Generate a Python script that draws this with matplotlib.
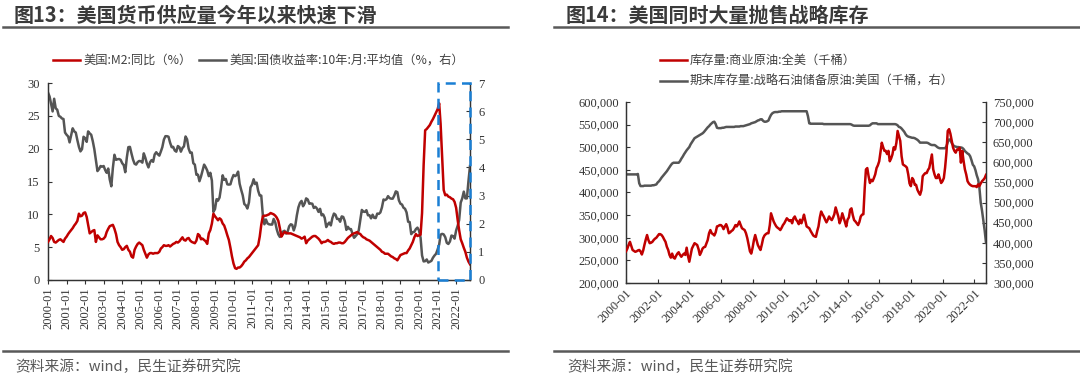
import numpy as np
import pandas as pd
import matplotlib
matplotlib.use("Agg")
import matplotlib.pyplot as plt
import matplotlib.dates as mdates
from matplotlib.patches import Rectangle
from matplotlib.lines import Line2D
from matplotlib.ticker import FuncFormatter, MultipleLocator

# numbers in Times-like serif, Chinese text passes its own family
plt.rcParams['font.family'] = ['Liberation Serif', 'Noto Sans CJK SC']
CJK = ['Noto Sans CJK SC', 'DejaVu Sans']

# monthly axis, 2000-01 .. 2022-10
months = pd.date_range("2000-01-01", "2022-10-01", freq="MS")

# ---- chart 13: US M2 yoy (%), one row per year
m2_yoy = [
    [5.8, 6.2, 6.7, 6.4, 5.8, 5.7, 5.9, 6.1, 6.2, 6.0, 5.8, 6.3],
    [6.6, 7.0, 7.3, 7.6, 7.9, 8.3, 8.6, 9.0, 10.1, 9.7, 9.8, 10.2],
    [10.3, 9.6, 8.4, 7.1, 7.3, 7.5, 7.6, 5.8, 6.8, 6.5, 6.2, 6.2],
    [6.3, 6.6, 7.3, 7.8, 8.2, 8.3, 8.4, 7.8, 7.0, 5.8, 5.3, 5.0],
    [4.6, 4.7, 5.0, 5.2, 4.6, 4.3, 3.6, 3.4, 4.6, 5.1, 5.5, 5.7],
    [5.5, 5.3, 4.6, 4.0, 3.4, 3.9, 4.1, 4.1, 4.0, 4.1, 4.1, 4.1],
    [4.3, 4.8, 5.0, 5.3, 5.2, 5.2, 5.3, 5.1, 5.3, 5.5, 5.6, 5.8],
    [5.7, 5.9, 6.2, 6.5, 6.1, 6.0, 6.3, 6.4, 6.0, 5.8, 5.7, 5.6],
    [6.0, 7.0, 6.8, 6.2, 6.3, 6.1, 5.9, 5.5, 7.1, 7.6, 8.6, 10.1],
    [9.7, 9.4, 9.1, 9.4, 9.2, 8.6, 8.3, 7.6, 6.8, 6.1, 4.9, 3.6],
    [2.5, 1.8, 1.7, 1.9, 1.9, 2.1, 2.4, 2.8, 3.0, 3.3, 3.5, 3.8],
    [4.1, 4.4, 4.7, 5.0, 5.3, 6.6, 8.4, 9.7, 9.8, 9.8, 9.9, 10.0],
    [10.2, 10.1, 10.0, 9.8, 9.5, 9.0, 7.9, 6.6, 7.0, 7.3, 7.2, 7.1],
    [7.1, 7.1, 7.0, 6.9, 6.8, 6.7, 6.6, 6.5, 6.3, 6.4, 6.6, 5.6],
    [6.0, 6.2, 6.4, 6.6, 6.7, 6.7, 6.5, 6.3, 6.0, 5.6, 5.8, 5.8],
    [5.9, 6.1, 5.9, 5.8, 5.6, 5.5, 5.6, 5.6, 5.7, 5.7, 5.6, 5.6],
    [5.8, 6.1, 6.4, 6.6, 6.8, 7.0, 7.1, 7.2, 7.3, 7.1, 7.0, 6.7],
    [6.5, 6.4, 6.2, 6.1, 6.0, 5.8, 5.6, 5.4, 5.2, 5.0, 4.8, 4.6],
    [4.3, 4.2, 4.0, 4.0, 4.0, 3.8, 3.6, 3.5, 3.3, 3.2, 3.0, 3.4],
    [3.8, 3.9, 4.0, 4.1, 4.1, 4.5, 4.8, 5.3, 5.8, 6.5, 7.0, 6.7],
    [6.8, 6.9, 10.2, 17.5, 22.8, 23.0, 23.3, 23.6, 24.1, 24.5, 25.0, 25.5],
    [26.0, 26.9, 23.8, 18.8, 13.7, 12.9, 13.0, 12.7, 12.6, 12.4, 12.3, 11.9],
    [11.0, 9.1, 7.6, 6.2, 5.6, 4.9, 4.3, 3.4, 2.8, 2.4],
]

# US 10y treasury yield, monthly average (%)
ust10y = [
    [6.66, 6.52, 6.26, 5.99, 6.44, 6.10, 6.05, 5.83, 5.80, 5.74, 5.72, 5.24],
    [5.16, 5.10, 4.89, 5.14, 5.39, 5.28, 5.24, 4.97, 4.73, 4.57, 4.65, 5.09],
    [5.04, 4.91, 5.28, 5.21, 5.16, 4.93, 4.65, 4.26, 3.87, 3.94, 4.05, 4.03],
    [4.05, 3.90, 3.81, 3.96, 3.57, 3.33, 3.98, 4.45, 4.27, 4.29, 4.30, 4.27],
    [4.15, 4.08, 3.83, 4.35, 4.72, 4.73, 4.50, 4.28, 4.13, 4.10, 4.19, 4.23],
    [4.22, 4.17, 4.50, 4.34, 4.14, 4.00, 4.18, 4.26, 4.20, 4.46, 4.54, 4.47],
    [4.42, 4.57, 4.72, 4.99, 5.11, 5.11, 5.09, 4.88, 4.72, 4.73, 4.60, 4.56],
    [4.76, 4.72, 4.56, 4.69, 4.75, 5.10, 5.00, 4.67, 4.52, 4.53, 4.15, 4.10],
    [3.74, 3.74, 3.51, 3.68, 3.88, 4.10, 4.01, 3.89, 3.69, 3.81, 3.53, 2.42],
    [2.52, 2.87, 2.82, 2.93, 3.29, 3.72, 3.56, 3.59, 3.40, 3.39, 3.40, 3.59],
    [3.73, 3.69, 3.73, 3.85, 3.42, 3.20, 3.01, 2.70, 2.65, 2.54, 2.76, 3.29],
    [3.39, 3.58, 3.41, 3.46, 3.17, 3.00, 3.00, 2.30, 1.98, 2.15, 2.01, 1.98],
    [1.97, 1.97, 2.17, 2.05, 1.80, 1.62, 1.53, 1.68, 1.72, 1.75, 1.65, 1.72],
    [1.91, 1.98, 1.96, 1.76, 1.93, 2.30, 2.58, 2.74, 2.81, 2.62, 2.72, 2.90],
    [2.86, 2.71, 2.72, 2.71, 2.56, 2.60, 2.54, 2.42, 2.53, 2.30, 2.33, 2.21],
    [1.88, 1.98, 2.04, 1.94, 2.20, 2.36, 2.32, 2.17, 2.17, 2.07, 2.26, 2.24],
    [2.09, 1.78, 1.89, 1.81, 1.81, 1.64, 1.50, 1.56, 1.63, 1.76, 2.14, 2.49],
    [2.43, 2.42, 2.48, 2.30, 2.30, 2.19, 2.32, 2.21, 2.20, 2.36, 2.35, 2.40],
    [2.58, 2.86, 2.84, 2.87, 2.98, 2.91, 2.89, 2.89, 3.00, 3.15, 3.12, 2.83],
    [2.71, 2.68, 2.57, 2.53, 2.40, 2.07, 2.06, 1.63, 1.70, 1.71, 1.81, 1.86],
    [1.76, 1.50, 0.87, 0.66, 0.67, 0.73, 0.62, 0.65, 0.68, 0.79, 0.87, 0.93],
    [1.08, 1.26, 1.61, 1.64, 1.62, 1.52, 1.32, 1.28, 1.37, 1.58, 1.56, 1.47],
    [1.76, 1.93, 2.13, 2.75, 2.90, 3.14, 2.90, 2.90, 3.52, 4.05],
]

# ---- chart 14: US commercial crude stocks (thousand of 千桶)
crude_comm = [
    [270, 276, 284, 291, 282, 273, 271, 269, 270, 272, 273, 270],
    [263, 272, 284, 296, 306, 295, 288, 289, 291, 295, 298, 300],
    [304, 308, 308, 306, 302, 296, 291, 280, 273, 262, 256, 265],
    [256, 254, 260, 265, 268, 262, 258, 262, 265, 262, 278, 260],
    [247, 262, 276, 282, 288, 286, 284, 275, 262, 268, 276, 279],
    [280, 288, 295, 310, 317, 310, 308, 305, 312, 325, 326, 328],
    [328, 325, 319, 325, 330, 322, 310, 312, 315, 317, 322, 328],
    [325, 330, 336, 328, 321, 319, 317, 310, 299, 285, 270, 265],
    [278, 295, 306, 295, 284, 278, 273, 285, 299, 305, 308, 310],
    [310, 328, 354, 345, 336, 330, 325, 322, 320, 317, 322, 328],
    [332, 338, 343, 340, 337, 339, 332, 343, 347, 340, 336, 330],
    [340, 332, 340, 351, 338, 325, 323, 321, 315, 310, 305, 303],
    [302, 315, 325, 345, 358, 352, 347, 340, 334, 340, 347, 342],
    [339, 345, 352, 367, 357, 347, 332, 340, 354, 345, 335, 325],
    [340, 345, 362, 365, 350, 339, 336, 332, 328, 335, 347, 351],
    [352, 410, 451, 454, 436, 421, 428, 425, 432, 440, 454, 460],
    [469, 490, 510, 500, 492, 492, 485, 492, 469, 475, 484, 500],
    [495, 510, 536, 525, 514, 480, 462, 460, 458, 455, 440, 420],
    [414, 432, 428, 417, 417, 406, 400, 395, 405, 436, 440, 443],
    [443, 450, 454, 469, 484, 451, 440, 432, 432, 440, 430, 421],
    [425, 432, 455, 488, 536, 540, 530, 514, 499, 492, 488, 495],
    [495, 499, 466, 492, 470, 451, 440, 425, 420, 417, 415, 414],
    [414, 414, 412, 418, 414, 420, 425, 428, 432, 439],
]

# strategic petroleum reserve, end of period (thousand of 千桶, right axis)
spr = [
    [570, 570, 570, 570, 570, 570, 570, 570, 570, 571, 548, 541],
    [541, 541, 542, 542, 542, 542, 542, 542, 543, 543, 544, 545],
    [550, 553, 557, 562, 566, 570, 574, 578, 583, 588, 593, 597],
    [599, 599, 599, 599, 599, 603, 609, 614, 620, 625, 630, 634],
    [638, 645, 650, 655, 660, 662, 664, 666, 668, 670, 672, 675],
    [679, 683, 687, 690, 694, 697, 700, 701, 695, 686, 685, 685],
    [685, 686, 686, 687, 688, 688, 688, 688, 688, 688, 688, 689],
    [689, 689, 689, 690, 690, 690, 691, 692, 693, 694, 695, 697],
    [698, 699, 700, 702, 704, 705, 707, 707, 703, 701, 701, 702],
    [704, 712, 718, 722, 724, 725, 725, 725, 726, 726, 727, 727],
    [727, 727, 727, 727, 727, 727, 727, 727, 727, 727, 727, 727],
    [727, 727, 727, 727, 727, 727, 715, 697, 696, 696, 696, 696],
    [696, 696, 696, 696, 696, 696, 695, 695, 695, 695, 695, 695],
    [695, 695, 695, 695, 695, 695, 695, 695, 695, 695, 695, 695],
    [695, 695, 695, 694, 692, 691, 691, 691, 691, 691, 691, 691],
    [691, 691, 691, 691, 691, 692, 695, 697, 697, 697, 697, 695],
    [695, 695, 695, 695, 695, 695, 695, 695, 695, 695, 695, 695],
    [695, 694, 692, 688, 687, 684, 680, 676, 670, 666, 664, 663],
    [662, 661, 661, 660, 658, 656, 653, 649, 649, 649, 649, 649],
    [649, 648, 646, 644, 643, 643, 643, 641, 638, 636, 635, 635],
    [635, 635, 635, 640, 650, 657, 656, 648, 643, 640, 639, 638],
    [638, 637, 637, 636, 633, 628, 625, 622, 620, 615, 605, 594],
    [590, 580, 568, 558, 538, 500, 480, 455, 430, 400],
]

m2_yoy = sum(m2_yoy, [])
ust10y = sum(ust10y, [])
crude_comm = np.array(sum(crude_comm, [])) * 1000
spr = np.array(sum(spr, [])) * 1000

RED = '#C00000'
GRAY = '#555555'
TXT = '#404040'
W, H = 1080, 384

fig = plt.figure(figsize=(W / 100, H / 100), dpi=100)


def fx(px):
    return px / W


def fy(py):
    return 1 - py / H


# header/footer of both panels
for x_t, x0, x1, title in [(14, 3, 508, "图13：美国货币供应量今年以来快速下滑"),
                           (566, 554, 1080, "图14：美国同时大量抛售战略库存")]:
    fig.text(fx(x_t), fy(15), title, fontsize=14.4, fontweight='bold', color='#3a3a3a',
             va='center', family=CJK)
    fig.add_artist(Line2D([fx(x0), fx(x1)], [fy(27), fy(27)], color='#595959', lw=1.8))
    fig.add_artist(Line2D([fx(x0), fx(x1)], [fy(351), fy(351)], color='#595959', lw=1.8))
    fig.text(fx(x_t + 1), fy(367), "资料来源：wind，民生证券研究院", fontsize=10.6, color='#595959',
             va='center', family=CJK)

# legends (drawn by hand, as in the source)
def legend_item(x, y, color, label):
    fig.add_artist(Line2D([fx(x), fx(x + 27)], [fy(y), fy(y)], color=color, lw=1.8))
    fig.text(fx(x + 30), fy(y), label, fontsize=8.8, color=TXT, va='center', family=CJK)

legend_item(53, 60, RED, "美国:M2:同比（%）")
legend_item(199, 60, GRAY, "美国:国债收益率:10年:月:平均值（%，右）")
legend_item(660, 60, RED, "库存量:商业原油:全美（千桶）")
legend_item(660, 81, GRAY, "期末库存量:战略石油储备原油:美国（千桶，右）")

# ---- left chart
ax1 = fig.add_axes([fx(48), fy(280), fx(470 - 48), (280 - 83) / H])
ax1b = ax1.twinx()
ax1.plot(months, m2_yoy, color=RED, lw=1.8, zorder=3)
ax1b.plot(months, ust10y, color=GRAY, lw=1.8)
ax1.set_zorder(ax1b.get_zorder() + 1)
ax1.patch.set_visible(False)

ax1.set_xlim(months[0], months[-1])
ax1.set_ylim(0, 30)
ax1b.set_ylim(0, 7)
ax1.yaxis.set_major_locator(MultipleLocator(5))
ax1b.yaxis.set_major_locator(MultipleLocator(1))
ax1.xaxis.set_major_locator(mdates.YearLocator(1))
ax1.xaxis.set_major_formatter(mdates.DateFormatter('%Y-%m'))
ax1.tick_params(axis='x', labelrotation=90)

# blue dashed box around 2021-2022
box_start = mdates.date2num(pd.Timestamp("2021-01-01"))
box = Rectangle((box_start, 0), mdates.date2num(months[-1]) - box_start, 1,
                transform=ax1.get_xaxis_transform(), fill=False, edgecolor='#1a7fd4',
                lw=1.8, ls=(0, (4, 2.5)), clip_on=False, zorder=5)
ax1.add_patch(box)

# ---- right chart
ax2 = fig.add_axes([fx(626), fy(283), fx(986 - 626), (283 - 102) / H])
ax2b = ax2.twinx()
ax2.plot(months, crude_comm, color=RED, lw=1.8, zorder=3)
ax2b.plot(months, spr, color=GRAY, lw=1.8)
ax2.set_zorder(ax2b.get_zorder() + 1)
ax2.patch.set_visible(False)

ax2.set_xlim(months[0], months[-1])
ax2.set_ylim(200000, 600000)
ax2b.set_ylim(300000, 750000)
ax2.yaxis.set_major_locator(MultipleLocator(50000))
ax2b.yaxis.set_major_locator(MultipleLocator(50000))
comma = FuncFormatter(lambda v, p: f"{v:,.0f}")
ax2.yaxis.set_major_formatter(comma)
ax2b.yaxis.set_major_formatter(comma)
ax2.xaxis.set_major_locator(mdates.YearLocator(2))
ax2.xaxis.set_major_formatter(mdates.DateFormatter('%Y-%m'))
plt.setp(ax2.get_xticklabels(), rotation=45, ha='right', rotation_mode='anchor')

# common axis styling
for ax in [ax1, ax1b, ax2, ax2b]:
    ax.spines['top'].set_visible(False)
    for s in ['left', 'right', 'bottom']:
        ax.spines[s].set_color('#333333')
        ax.spines[s].set_linewidth(0.9)
    ax.tick_params(axis='both', labelsize=9, colors='#333333', length=3, width=0.8,
                   direction='in')

ax1.tick_params(axis='x', direction='out', pad=2)
ax2.tick_params(axis='x', pad=3)
ax1.tick_params(axis='y', pad=6)
ax1b.tick_params(axis='y', pad=6)
ax2.tick_params(axis='y', pad=5)
ax2b.tick_params(axis='y', pad=5)

fig.savefig("out.png", dpi=100)
